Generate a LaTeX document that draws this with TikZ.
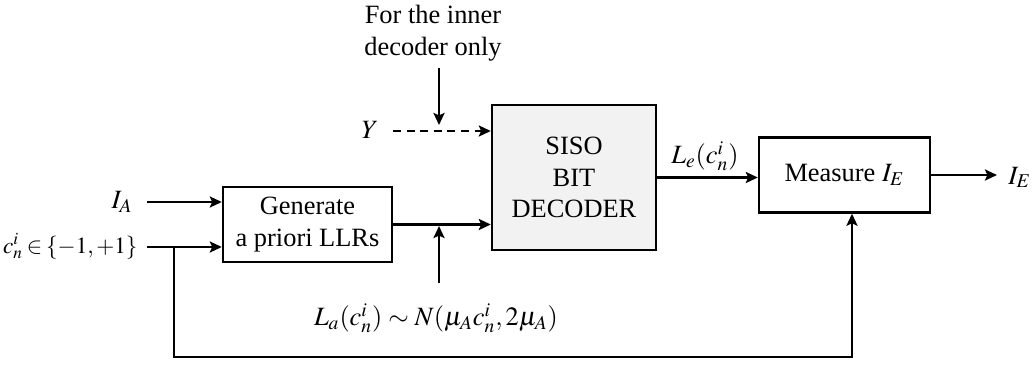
\documentclass[tikz,border=0pt]{standalone}
\usepackage{mathptmx}
\usepackage{fontspec}
\setmainfont{Liberation Serif}
\usetikzlibrary{arrows.meta}
\tikzset{
  base/.style={font=\fontsize{13.2}{15.75}\selectfont},
  blk/.style={base, draw=black, line width=1.2pt, align=center, inner sep=0pt},
  lbl/.style={base, inner sep=0pt},
  arr/.style={line width=1.2pt, -{Stealth[length=6pt,width=5.5pt,inset=1.2pt]}},
  ln/.style={line width=1.2pt},
}
\begin{document}
\begin{tikzpicture}[x=0.5pt,y=-0.5pt]
\useasboundingbox (0,0) rectangle (1035,365);
% blocks
\node[blk, minimum width=84.5pt, minimum height=37.5pt] (gen) at (307.5,224.5) {Generate\\[0.5pt]a priori LLRs};
\node[blk, fill=black!5, minimum width=82pt, minimum height=72.5pt] (siso) at (574,177.5) {SISO\\BIT\\DECODER};
\node[blk, minimum width=85.5pt, minimum height=37.5pt] (meas) at (844.5,175) {Measure $I_E$};
% labels
\node[lbl, anchor=base east] (IA) at (133,208) {$I_A$};
\node[lbl, anchor=base east, font=\fontsize{11.6}{14}\selectfont] (cin) at (138,253) {\thickmuskip=3mu$c_n^i \in \{-1,+1\}$};
\node[lbl, align=center] (note) at (433,33) {For the inner\\decoder only};
\node[lbl, anchor=base] (Y) at (370,138) {$Y$};
\node[lbl] (La) at (436,318) {$L_a(c_n^i) \sim N(\mu_A c_n^i, 2\mu_A)$};
\node[lbl] (Le) at (705,156) {$L_e(c_n^i)$};
\node[lbl, anchor=base west] (IE) at (1008,184) {$I_E$};
% coordinates
\coordinate (ia0) at (147,202);
\coordinate (c0) at (147,247);
\coordinate (cb) at (174,247);
\coordinate (bl) at (174,357);
\coordinate (br) at (852,357);
\coordinate (la0) at (439,283);
\coordinate (la1) at (439,226);
\coordinate (n0) at (439,68);
\coordinate (n1) at (439,125);
\coordinate (y0) at (393,131);
\coordinate (ie1) at (997,175);
% connectors
\draw[arr] (ia0) -- (ia0 -| gen.west);
\draw[arr] (c0) -- (c0 -| gen.west);
\draw[arr] (cb) -- (bl) -- (br) -- (br |- meas.south);
\draw[arr] (gen.east) -- (gen.east -| siso.west);
\draw[arr] (la0) -- (la1);
\draw[arr] (n0) -- (n1);
\draw[arr, dash pattern=on 4pt off 2.8pt] (y0) -- (y0 -| siso.west);
\draw[arr] (siso.east) -- (siso.east -| meas.west);
\draw[arr] (meas.east) -- (ie1);
\end{tikzpicture}
\end{document}
